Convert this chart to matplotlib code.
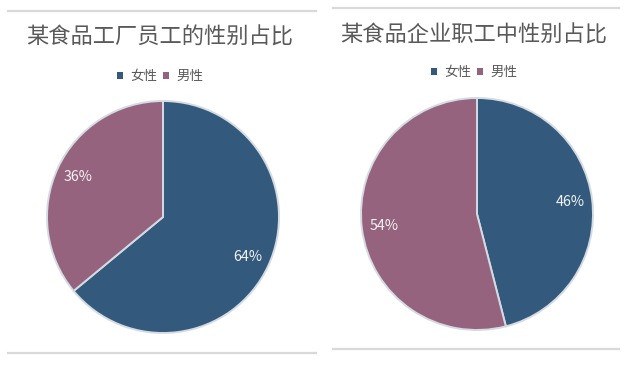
import matplotlib.pyplot as plt
from matplotlib.lines import Line2D
from matplotlib.patches import Patch

plt.rcParams['font.family'] = ['Noto Sans CJK SC', 'DejaVu Sans']

# data
labels = ['女性', '男性']
factory_share = [64, 36]
company_share = [46, 54]
titles = ['某食品工厂员工的性别占比', '某食品企业职工中性别占比']
colors = ['#335a7c', '#96637f']

W, H = 631, 373
fig = plt.figure(figsize=(W / 100, H / 100), dpi=100)

# panel layout in pixels: pie centre, radius, title/legend y, frame lines
panels = [
    dict(cx=163, cy=217, r=116, tx=160, ty=37, ly=76, x0=8, x1=316, top=11, bot=353),
    dict(cx=477, cy=214, r=116, tx=474, ty=35, ly=72, x0=333, x1=619, top=7.5, bot=349),
]

for p, vals, title in zip(panels, [factory_share, company_share], titles):
    # thin gray frame lines above and below each chart
    for yy in (p['top'], p['bot']):
        fig.add_artist(Line2D([p['x0'] / W, p['x1'] / W], [1 - yy / H, 1 - yy / H],
                              color='#d9d9d9', lw=1.6, transform=fig.transFigure))

    m = 1.1
    size = 2 * p['r'] * m
    ax = fig.add_axes([(p['cx'] - size / 2) / W, (H - p['cy'] - size / 2) / H,
                       size / W, size / H])
    ax.pie(vals, colors=colors, startangle=90, counterclock=False,
           autopct='%1.0f%%', pctdistance=0.81,
           wedgeprops=dict(edgecolor='#d5dbe3', linewidth=1.4),
           textprops=dict(color='#f2f2f2', fontsize=10.3))
    ax.set_xlim(-m, m)
    ax.set_ylim(-m, m)
    ax.axis('off')

    fig.text(p['tx'] / W, 1 - p['ty'] / H, title, ha='center', va='center',
             fontsize=16, color='#595959')
    handles = [Patch(facecolor=c, edgecolor='none') for c in colors]
    fig.legend(handles, labels, loc='center', bbox_to_anchor=(p['tx'] / W, 1 - p['ly'] / H),
               ncol=2, frameon=False, fontsize=9.7, labelcolor='#595959',
               handlelength=0.45, handleheight=0.45, handletextpad=0.55,
               columnspacing=0.4, borderpad=0)

fig.savefig('out.png', dpi=100)
